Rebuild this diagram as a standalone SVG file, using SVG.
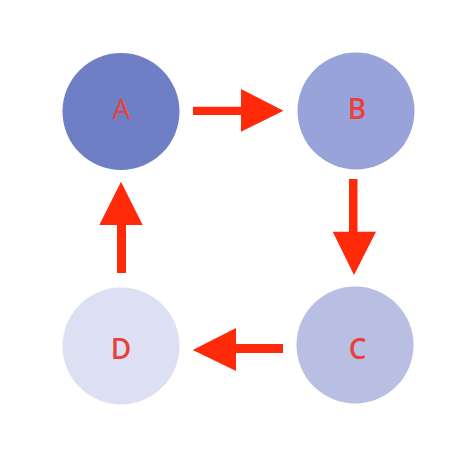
<svg xmlns="http://www.w3.org/2000/svg" width="474" height="450" viewBox="0 0 474 450">
<style>
.lbl{font-family:"Open Sans","Noto Sans","DejaVu Sans",sans-serif;font-size:28px;font-weight:600;fill:#ec3f3a;text-anchor:middle}
.thin{font-weight:400}
.arr{fill:#ff2a0a}
</style>
<rect width="474" height="450" fill="#ffffff"/>
<g id="node-A"><circle cx="121" cy="111.5" r="58.5" fill="#6f7fc6"/><text class="lbl thin" x="121.3" y="118.5">A</text></g>
<g id="node-B"><circle cx="356" cy="111" r="58.5" fill="#98a4d9"/><text class="lbl" x="357" y="118.5">B</text></g>
<g id="node-C"><circle cx="355" cy="345" r="58.5" fill="#b9bfe3"/><text class="lbl" x="357.7" y="358.5">C</text></g>
<g id="node-D"><circle cx="121" cy="346" r="58.5" fill="#dde0f2"/><text class="lbl" x="121" y="358.5">D</text></g>
<g id="connectors">
<polygon class="arr" points="193,106.7 241,106.7 241,89 283.5,110.7 241,131.7 241,115 193,115"/>
<polygon class="arr" points="349,179 357.5,179 357.5,231.7 376,231.7 354,275 332.7,231.7 349,231.7"/>
<polygon class="arr" points="283,344 236,344 236,328 192.7,350 236,371 236,353 283,353"/>
<polygon class="arr" points="117,273 126,273 126,225 142.7,225 121,181.7 99.3,225 117,225"/>
</g>
</svg>
